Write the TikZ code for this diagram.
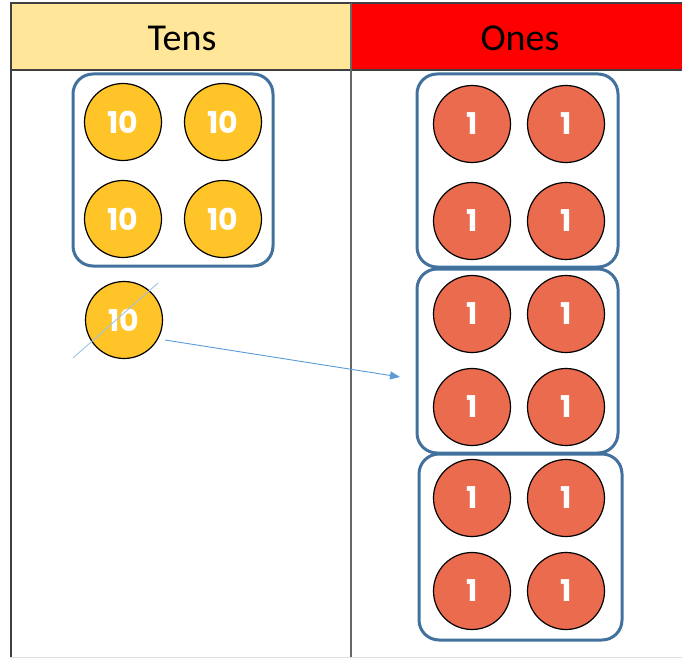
\documentclass[tikz,border=0pt]{standalone}
\usepackage{fontspec}
\setmainfont{Carlito}
\newfontfamily\coinfont{Poppins}
\usetikzlibrary{arrows.meta}
\definecolor{tensbg}{HTML}{FFE699}
\definecolor{onesbg}{HTML}{FF0000}
\definecolor{tenfill}{HTML}{FFC428}
\definecolor{onefill}{HTML}{EB6B4F}
\definecolor{boxblue}{HTML}{41719C}
\definecolor{arrowblue}{HTML}{5B9BD5}
\definecolor{crossblue}{HTML}{9DC3E6}
\definecolor{gridgray}{HTML}{404040}
\tikzset{
  coin/.style={circle, draw=black, line width=1.2pt, minimum size=77pt, inner sep=0pt,
    text=white, font=\coinfont\bfseries\fontsize{30}{30}\selectfont},
  tencoin/.style={coin, fill=tenfill},
  onecoin/.style={coin, fill=onefill},
  groupbox/.style={draw=boxblue, line width=3pt, rounded corners=20pt, inner sep=0pt},
  header/.style={font=\fontsize{38}{38}\selectfont, text=black},
  grid/.style={draw=gridgray, line width=1.5pt},
}
\begin{document}
\begin{tikzpicture}[x=1pt,y=-1pt]
\useasboundingbox (0,0) rectangle (682,658);
% header
\fill[tensbg] (10,3) rectangle (351,70);
\fill[onesbg] (351,3) rectangle (682,70);
\node[header] (tens) at (182,38) {Tens};
\node[header] (ones) at (520,38) {Ones};
% grid lines
\draw[grid] (10,3) -- (682,3);
\draw[grid] (10,70) -- (682,70);
\draw[grid] (11,3) -- (11,657);
\draw[draw=gridgray!80, line width=1.2pt] (351,3) -- (351,657);
\draw[draw=gray!25, line width=1pt] (10,657) -- (682,657);
% group boxes
\node[groupbox, minimum width=200pt, minimum height=192pt] (tbox) at (173,170) {};
\node[groupbox, minimum width=201pt, minimum height=193pt] (obox1) at (517.5,170.5) {};
\node[groupbox, minimum width=201pt, minimum height=184pt] (obox2) at (517.5,361) {};
\node[groupbox, minimum width=203pt, minimum height=186pt] (obox3) at (520.5,547) {};
% tens coins
\node[tencoin] (t1) at (123,122) {10};
\node[tencoin] (t2) at (223,122) {10};
\node[tencoin] (t3) at (123,219) {10};
\node[tencoin] (t4) at (223,219) {10};
\node[tencoin] (t5) at (124,320) {10};
% ones coins
\foreach \r/\y in {1/124,2/221,3/314,4/407,5/498,6/591}{
  \node[onecoin] (o\r a) at (472,\y) {1};
  \node[onecoin] (o\r b) at (566,\y) {1};
}
% cross-out line and arrow
\coordinate (c1) at (73,358);
\coordinate (c2) at (158,283);
\draw[crossblue, line width=0.9pt] (c1) -- (c2);
\coordinate (as) at (165,340);
\coordinate (ae) at (400,377);
\draw[arrowblue, line width=0.9pt, -{Triangle[length=10pt,width=8pt]}] (as) -- (ae);
\end{tikzpicture}
\end{document}
